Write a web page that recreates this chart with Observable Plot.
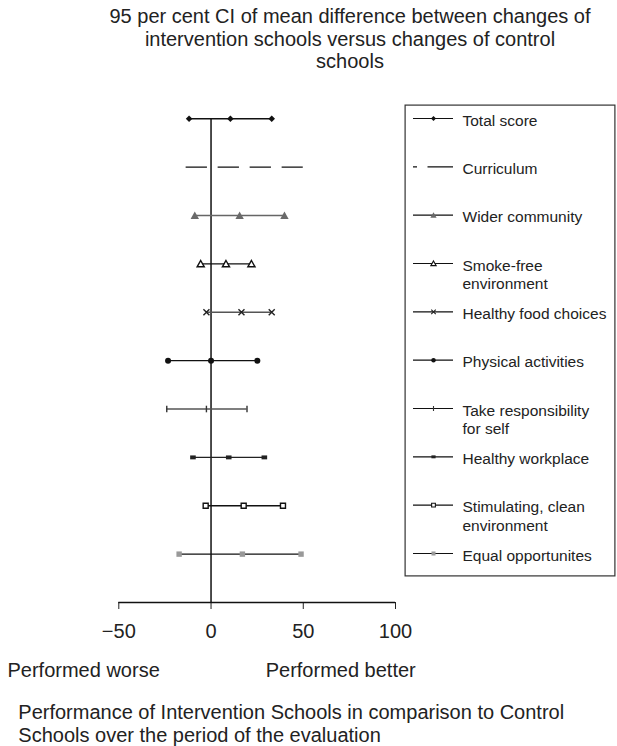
<!DOCTYPE html>
<html>
<head>
<meta charset="utf-8">
<script src="https://cdn.jsdelivr.net/npm/d3@7"></script>
<script src="https://cdn.jsdelivr.net/npm/@observablehq/plot@0.6"></script>
<style>
  html, body { margin: 0; padding: 0; background: #fff; }
  #wrap { position: relative; width: 617px; height: 746px; overflow: hidden;
          font-family: "Liberation Sans", Arial, Helvetica, sans-serif; color: #222; }
  #wrap > * { position: absolute; }
  .t20 { font-size: 20px; white-space: nowrap; }
</style>
</head>
<body>
<div id="wrap"></div>
<script>
// ---- data ----
const categories = ["Total score", "Curriculum", "Wider community", "Smoke-free environment",
  "Healthy food choices", "Physical activities", "Take responsibility for self",
  "Healthy workplace", "Stimulating, clean environment", "Equal opportunites"];
const legendLabels = ["Total score", "Curriculum", "Wider community", "Smoke-free\nenvironment",
  "Healthy food choices", "Physical activities", "Take responsibility\nfor self",
  "Healthy workplace", "Stimulating, clean\nenvironment", "Equal opportunites"];
const lower = [-11.9, -13.5, -8.8, -5.6, -2.5, -23.3, -24.0, -9.8, -2.9, -17.3];
const mean  = [10.5, null, 15.5, 8.1, 16.5, 0.0, -2.5, 9.6, 17.7, 17.0];
const upper = [32.9, 50.0, 39.8, 21.9, 32.9, 25.1, 19.5, 28.9, 39.0, 48.8];
const xTicks = [-50, 0, 50, 100];
const titleLines = ["95 per cent CI of mean difference between changes of",
  "intervention schools versus changes of control", "schools"];
const leftLabel = "Performed worse";
const rightLabel = "Performed better";
const captionLines = ["Performance of Intervention Schools in comparison to Control",
  "Schools over the period of the evaluation"];

// ---- custom marker shapes ----
const sym = (f) => ({ draw(ctx, size) { const r = Math.sqrt(size / Math.PI); f(ctx, r); } });
const diamond = sym((c, r) => { c.moveTo(0, -r); c.lineTo(r, 0); c.lineTo(0, r); c.lineTo(-r, 0); c.closePath(); });
const triangle = sym((c, r) => { c.moveTo(0, -r); c.lineTo(r * 1.05, r * 0.85); c.lineTo(-r * 1.05, r * 0.85); c.closePath(); });
const times = sym((c, r) => { c.moveTo(-r, -r); c.lineTo(r, r); c.moveTo(-r, r); c.lineTo(r, -r); });
const vtick = sym((c, r) => { c.moveTo(0, -r); c.lineTo(0, r); });
const rect = sym((c, r) => { const h = r * 0.7; c.moveTo(-r, -h); c.lineTo(r, -h); c.lineTo(r, h); c.lineTo(-r, h); c.closePath(); });
const square = sym((c, r) => { c.moveTo(-r, -r); c.lineTo(r, -r); c.lineTo(r, r); c.lineTo(-r, r); c.closePath(); });
const circle = sym((c, r) => { c.moveTo(r, 0); c.arc(0, 0, r, 0, 2 * Math.PI); c.closePath(); });

const styles = [
  {line: "#111", dash: null, symbol: diamond, r: 3.3, fill: "#111", stroke: "none"},
  {line: "#111", dash: "21.33,10.67", legendDash: "4,10.5,26", symbol: null},
  {line: "#666", dash: null, symbol: triangle, r: 4, fill: "#6a6a6a", stroke: "none"},
  {line: "#111", dash: null, symbol: triangle, r: 3.4, fill: "#fff", stroke: "#111"},
  {line: "#555", dash: null, symbol: times, r: 3, fill: "none", stroke: "#222"},
  {line: "#111", dash: null, symbol: circle, r: 3, fill: "#111", stroke: "none"},
  {line: "#555", dash: null, symbol: vtick, r: 3.3, fill: "none", stroke: "#333"},
  {line: "#222", dash: null, symbol: rect, r: 2.8, fill: "#222", stroke: "none"},
  {line: "#111", dash: null, symbol: square, r: 2.5, fill: "#fff", stroke: "#111"},
  {line: "#111", dash: null, symbol: square, r: 2.7, fill: "#999", stroke: "none"}
];

const rows = categories.map((c, i) => ({category: c, label: legendLabels[i], row: i,
  lower: lower[i], mean: mean[i], upper: upper[i]}));

const font = "'Liberation Sans', Arial, Helvetica, sans-serif";
const wrap = document.getElementById("wrap");

// ---- main chart ----
const marks = [
  Plot.ruleX([0], {y1: 0, y2: categories.length, stroke: "#111", strokeWidth: 1.5}),
  Plot.ruleY([categories.length], {x1: d3.min(xTicks), x2: d3.max(xTicks), stroke: "#111", strokeWidth: 1.4})
];
rows.forEach((d, i) => {
  const s = styles[i];
  marks.push(Plot.ruleY([d], {y: "row", x1: "lower", x2: "upper", stroke: s.line, strokeWidth: 1.4,
    strokeDasharray: s.dash || undefined}));
  if (s.symbol) {
    const pts = [d.lower, d.mean, d.upper].filter(v => v != null).map(v => ({value: v, row: d.row}));
    marks.push(Plot.dot(pts, {x: "value", y: "row", symbol: s.symbol, r: s.r, fill: s.fill,
      stroke: s.stroke, strokeWidth: 1.4}));
  }
});

const chart = Plot.plot({
  width: 617, height: 746,
  marginLeft: 118.3, marginRight: 222, marginTop: 118.3, marginBottom: 144,
  style: {fontFamily: font, fontSize: "20px", color: "#222", background: "transparent", overflow: "visible"},
  x: {domain: [-50, 100], ticks: xTicks, tickSize: 7, tickPadding: 14, label: null},
  y: {domain: [0, categories.length], reverse: true, axis: null},
  marks
});
chart.style.left = "0px"; chart.style.top = "0px";
wrap.appendChild(chart);

// ---- legend ----
const lmarks = [Plot.frame({stroke: "#333", strokeWidth: 1.2, inset: 0.6})];
rows.forEach((d, i) => {
  const s = styles[i];
  lmarks.push(Plot.ruleY([d], {y: "row", x1: 0, x2: 1, stroke: "#111", strokeWidth: 1.2,
    strokeDasharray: s.legendDash || undefined}));
  if (s.symbol) {
    lmarks.push(Plot.dot([d], {x: 0.5, y: "row", symbol: s.symbol, r: s.r * 0.75, fill: s.fill,
      stroke: s.stroke, strokeWidth: 1.1}));
  }
});
lmarks.push(Plot.text(rows, {x: 1, y: "row", text: "label", dx: 9, dy: -6, textAnchor: "start",
  lineAnchor: "top", lineHeight: 1.2, fontSize: 15.5, fill: "#222"}));

const legend = Plot.plot({
  width: 211, height: 472, margin: 0,
  style: {fontFamily: font, background: "white", overflow: "visible"},
  x: {domain: [0, 1], range: [9, 49], axis: null},
  y: {domain: [0, categories.length - 1], range: [14, 449], axis: null},
  marks: lmarks
});
legend.style.left = "404px"; legend.style.top = "104px";
wrap.appendChild(legend);

// ---- texts ----
const title = document.createElement("div");
title.className = "t20";
title.style.cssText = "left:100px;top:5px;width:500px;text-align:center;line-height:22.7px;";
title.innerHTML = titleLines.join("<br>");
wrap.appendChild(title);

const lw = document.createElement("div");
lw.className = "t20"; lw.style.cssText = "left:7.5px;top:660.4px;line-height:20px;";
lw.textContent = leftLabel; wrap.appendChild(lw);

const rb = document.createElement("div");
rb.className = "t20"; rb.style.cssText = "left:265.7px;top:660.4px;line-height:20px;";
rb.textContent = rightLabel; wrap.appendChild(rb);

const cap = document.createElement("div");
cap.className = "t20"; cap.style.cssText = "left:18.3px;top:701.1px;line-height:22.5px;";
cap.innerHTML = captionLines.join("<br>");
wrap.appendChild(cap);
</script>
</body>
</html>
